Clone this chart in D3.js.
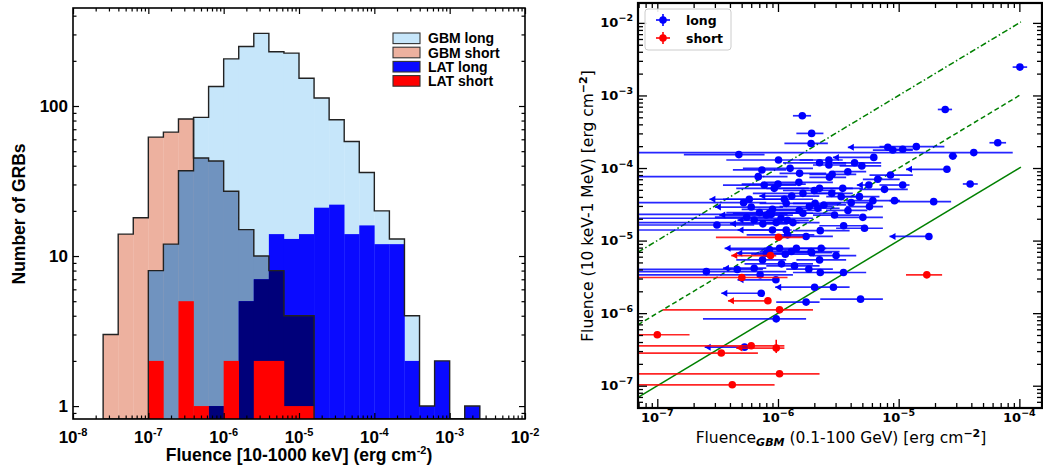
<!DOCTYPE html>
<html>
<head>
<meta charset="utf-8">
<script src="https://cdn.jsdelivr.net/npm/d3@7"></script>
<style>
  body { margin: 0; background: #fff; }
  svg { display: block; }
</style>
</head>
<body>
<svg id="chart" width="1043" height="468"></svg>
<script>
// ---------------- data: left panel (histogram, counts per 0.2-dex bin) ----------------
const binEdgesExp = [-7.6, -7.4, -7.2, -7.0, -6.8, -6.6, -6.4, -6.2, -6.0, -5.8, -5.6, -5.4, -5.2,
                     -5.0, -4.8, -4.6, -4.4, -4.2, -4.0, -3.8, -3.6, -3.4, -3.2, -3.0, -2.8, -2.6];
const gbmLong  = [0, 0, 0, 8, 12, 37, 84, 135, 206, 249, 305, 230, 225, 153, 113, 81, 58, 36, 20, 13, 4, 1, 2, 0, 1];
const gbmShort = [3, 14, 18, 62, 67, 82, 45, 43, 27, 15, 10, 8, 4, 4, 0, 0, 0, 0, 0, 0, 0, 0, 0, 0, 0];
const latLong  = [0, 0, 0, 0, 0, 0, 0, 1, 0, 5, 7, 14, 13, 14, 21, 22, 14, 16, 12, 12, 2, 1, 2, 0, 1];
const latShort = [0, 0, 0, 2, 0, 5, 1, 0, 2, 0, 2, 2, 1, 1, 0, 0, 0, 0, 0, 0, 0, 0, 0, 0, 0];
const histLegend = ["GBM long", "GBM short", "LAT long", "LAT short"];
const histXTicks = [1e-8, 1e-7, 1e-6, 1e-5, 1e-4, 1e-3, 1e-2];
const histYTicks = [1, 10, 100];

// ---------------- data: right panel (x, y, xLow, xHigh, upperLimit[, yLow, yHigh]) ----------------
const longPts = [
  [1.01e-4, 2.46e-3, 8.8e-5, 1.16e-4, 0],
  [1.59e-6, 5.25e-4, 1.33e-6, 1.88e-6, 0],
  [2.43e-5, 6.41e-4, 2.11e-5, 2.77e-5, 0],
  [1.90e-6, 3.0e-4, 1.42e-6, 2.38e-6, 0],
  [6.62e-5, 2.23e-4, 5.65e-5, 7.76e-5, 0],
  [1.88e-6, 2.18e-4, 1.13e-6, 2.59e-6, 0],
  [1.40e-5, 1.97e-4, 6.93e-6, 2.39e-5, 0],
  [8.13e-6, 1.93e-4, 3.79e-6, 8.13e-6, 1],
  [8.94e-6, 1.77e-4, 6.11e-6, 1.31e-5, 0],
  [1.08e-5, 1.81e-4, 8.39e-6, 1.31e-5, 0],
  [4.19e-5, 1.63e-4, 1e-8, 8.81e-5, 0],
  [4.74e-7, 1.53e-4, 1.66e-7, 7.74e-7, 0],
  [6.22e-6, 1.40e-4, 2.85e-6, 6.22e-6, 1],
  [2.81e-5, 1.46e-4, 2.60e-5, 3.05e-5, 0],
  [1.01e-6, 1.29e-4, 3.73e-7, 1.95e-6, 0],
  [2.21e-6, 1.18e-4, 1.10e-6, 3.67e-6, 0],
  [2.64e-6, 1.29e-4, 1.51e-6, 3.44e-6, 0],
  [2.64e-6, 1.10e-4, 1.95e-6, 3.67e-6, 0],
  [4.31e-6, 1.18e-4, 2.85e-6, 7.16e-6, 0],
  [4.95e-6, 1.07e-4, 3.24e-6, 7.16e-6, 0],
  [1.26e-6, 9.9e-5, 5.12e-7, 1.95e-6, 0],
  [2.51e-5, 9.6e-5, 1.15e-5, 2.51e-5, 1],
  [7.36e-7, 9.4e-5, 4.23e-7, 1.17e-6, 0],
  [1.51e-6, 8.45e-5, 1.03e-6, 2.51e-6, 0],
  [2.81e-6, 8.2e-5, 1.82e-6, 4.45e-6, 0],
  [3.79e-6, 8.9e-5, 2.85e-6, 5.38e-6, 0],
  [8.55e-6, 8.0e-5, 5.73e-6, 1.31e-5, 0],
  [6.86e-7, 7.6e-5, 1e-8, 1.20e-6, 0],
  [2.67e-6, 7.45e-5, 1.82e-6, 3.67e-6, 0],
  [1.49e-6, 6.35e-5, 8.0e-7, 2.85e-6, 0],
  [6.71e-6, 6.99e-5, 5.05e-6, 1.02e-5, 0],
  [7.69e-7, 5.83e-5, 3.50e-7, 1.42e-6, 0],
  [9.31e-7, 5.25e-5, 4.51e-7, 1.80e-6, 0],
  [2.21e-6, 5.25e-5, 8.0e-7, 4.17e-6, 0],
  [5.66e-6, 5.83e-5, 4.5e-6, 5.66e-6, 1],
  [1.08e-5, 5.83e-5, 6.93e-6, 1.23e-5, 0],
  [7.63e-6, 5.08e-5, 4.73e-6, 1.19e-5, 0],
  [3.44e-6, 5.25e-5, 2.36e-6, 5.05e-6, 0],
  [3.91e-5, 6.03e-5, 3.40e-5, 4.52e-5, 0],
  [1.61e-6, 4.48e-5, 6.19e-7, 3.44e-6, 0],
  [2.79e-6, 4.48e-5, 1.95e-6, 4.17e-6, 0],
  [3.34e-6, 4.03e-5, 2.51e-6, 4.73e-6, 0],
  [4.73e-6, 4.03e-5, 3.24e-6, 6.93e-6, 0],
  [1.13e-6, 3.71e-5, 3.50e-7, 1.95e-6, 0],
  [5.78e-7, 3.71e-5, 2.70e-7, 1.20e-6, 1],
  [5.19e-7, 3.33e-5, 1e-8, 8.0e-7, 0],
  [1.17e-6, 3.26e-5, 7.03e-7, 1.95e-6, 0],
  [2.03e-6, 3.26e-5, 1.33e-6, 3.24e-6, 0],
  [6.11e-6, 3.55e-5, 3.67e-6, 1.02e-5, 0],
  [9.23e-6, 3.55e-5, 8.39e-6, 1.02e-5, 0],
  [1.95e-5, 3.44e-5, 9.23e-6, 2.72e-5, 0],
  [4.04e-6, 3.33e-5, 2.51e-6, 6.11e-6, 0],
  [5.73e-6, 2.94e-5, 3.67e-6, 7.40e-6, 0],
  [1.82e-6, 2.94e-5, 1.03e-6, 2.85e-6, 0],
  [2.40e-6, 3.10e-5, 1.71e-6, 3.67e-6, 0],
  [2.14e-6, 2.79e-5, 1.42e-6, 3.24e-6, 0],
  [7.03e-7, 2.43e-5, 3.73e-7, 1.42e-6, 0],
  [8.46e-7, 2.38e-5, 4.23e-7, 1.95e-6, 0],
  [1.06e-6, 2.03e-5, 1e-8, 1.95e-6, 0],
  [6.35e-7, 1.92e-5, 4.62e-7, 1.03e-6, 1],
  [3.12e-7, 1.64e-5, 1e-8, 6.35e-7, 0],
  [1.61e-6, 2.38e-5, 1.03e-6, 2.85e-6, 0],
  [2.94e-6, 2.25e-5, 1.95e-6, 4.73e-6, 0],
  [5.05e-6, 2.09e-5, 3.03e-6, 7.40e-6, 0],
  [5.21e-6, 1.48e-5, 3.03e-6, 7.40e-6, 0],
  [2.24e-6, 1.37e-5, 1.33e-6, 3.92e-6, 0],
  [1.71e-6, 1.14e-5, 9.67e-7, 2.85e-6, 0],
  [1.78e-5, 1.14e-5, 8.39e-6, 1.78e-5, 1],
  [1.42e-6, 7.83e-6, 8.0e-7, 2.51e-6, 0],
  [2.28e-6, 7.83e-6, 1.51e-6, 3.92e-6, 0],
  [1.29e-6, 7.06e-6, 7.03e-7, 2.21e-6, 0],
  [1.88e-6, 7.06e-6, 1.17e-6, 3.24e-6, 0],
  [3.03e-6, 6.22e-6, 1.95e-6, 4.45e-6, 0],
  [2.21e-6, 5.42e-6, 1.42e-6, 3.67e-6, 0],
  [1.07e-6, 4.78e-6, 5.28e-7, 1.95e-6, 0],
  [1.37e-6, 4.48e-6, 8.0e-7, 2.21e-6, 0],
  [1.80e-6, 4.04e-6, 1.17e-6, 2.85e-6, 0],
  [2.24e-6, 3.63e-6, 1.33e-6, 3.67e-6, 0],
  [3.49e-6, 3.63e-6, 2.21e-6, 5.38e-6, 0],
  [7.45e-7, 5.42e-6, 4.51e-7, 1.17e-6, 0],
  [6.35e-7, 4.16e-6, 3.50e-7, 8.0e-7, 1],
  [2.55e-7, 3.74e-6, 1e-8, 1.17e-6, 0],
  [7.12e-7, 3.37e-6, 1e-8, 1.33e-6, 0],
  [9.61e-7, 2.88e-6, 4.62e-7, 9.61e-7, 1],
  [2.01e-6, 2.28e-6, 9.48e-7, 2.01e-6, 1],
  [2.88e-6, 2.28e-6, 1.95e-6, 3.92e-6, 0],
  [7.26e-7, 1.88e-6, 3.39e-7, 7.26e-7, 1],
  [1.71e-6, 1.42e-6, 9.67e-7, 2.21e-6, 0],
  [4.83e-6, 1.56e-6, 2.24e-6, 7.40e-6, 0],
  [9.67e-7, 8.35e-7, 2.39e-7, 1.71e-6, 0],
  [5.28e-7, 3.40e-7, 2.47e-7, 5.28e-7, 1],
  [8.0e-7, 2.25e-5, 3.26e-7, 1.33e-6, 1],
  [9.67e-7, 1.77e-5, 1e-8, 1.51e-6, 0],
  [1.17e-6, 1.40e-5, 4.62e-7, 1.17e-6, 1],
  [1.33e-6, 1.77e-5, 8.0e-7, 2.21e-6, 0],
  [1.03e-6, 7.83e-6, 3.61e-7, 1.03e-6, 1],
  [8.0e-7, 6.7e-6, 4.51e-7, 1.33e-6, 1],
  [8.8e-7, 2.3e-5, 1e-8, 1.2e-6, 0],
  [9.0e-7, 1.40e-5, 1e-8, 1.3e-6, 0],
  [5.5e-7, 2.1e-5, 3.0e-7, 9.0e-7, 0],
  [1.2e-6, 1.9e-5, 6.5e-7, 1.8e-6, 0],
  [7.5e-7, 1.7e-5, 4.0e-7, 1.2e-6, 1],
  [1.5e-6, 2.6e-5, 9.0e-7, 2.3e-6, 0],
  [9.0e-7, 2.7e-5, 5.0e-7, 1.6e-6, 0],
  [6.0e-7, 2.9e-5, 3.0e-7, 1.1e-6, 1],
  [1.2e-6, 1.2e-5, 5.5e-7, 2.0e-6, 0],
  [8.5e-7, 7.5e-6, 4.0e-7, 1.5e-6, 0],
  [1.15e-6, 6.5e-6, 6.0e-7, 2.0e-6, 0],
  [1.9e-6, 6.8e-6, 1.2e-6, 2.8e-6, 0],
  [3.5e-6, 1.6e-5, 2.2e-6, 5.0e-6, 0],
  [3.8e-6, 2.6e-5, 2.5e-6, 5.5e-6, 0],
  [1.3e-6, 4.1e-5, 7.0e-7, 2.2e-6, 1],
  [2.0e-6, 4.9e-5, 1.1e-6, 3.0e-6, 0],
  [1.0e-6, 6.0e-5, 5.0e-7, 1.7e-6, 0],
  [4.6e-7, 4.0e-6, 1e-8, 7.5e-7, 0]
];
const shortPts = [
  [1.01e-6, 1.11e-5, 3.06e-7, 1.61e-6, 0],
  [8.67e-7, 6.22e-6, 4.10e-7, 9.67e-7, 1],
  [5.02e-7, 3.10e-6, 1e-8, 1.20e-6, 0],
  [1.71e-5, 3.37e-6, 1.15e-5, 2.29e-5, 0],
  [8.25e-7, 1.48e-6, 3.85e-7, 8.25e-7, 1],
  [1.03e-6, 1.11e-6, 1.11e-7, 1.95e-6, 0],
  [1.0e-7, 5.04e-7, 1e-8, 1.85e-7, 0],
  [6.0e-7, 3.55e-7, 1e-8, 1.13e-6, 0],
  [9.67e-7, 3.30e-7, 4.51e-7, 1.13e-6, 1, 2.82e-7, 4.3e-7],
  [3.39e-7, 2.82e-7, 1e-8, 6.82e-7, 0],
  [1.03e-6, 1.46e-7, 1e-8, 2.21e-6, 0],
  [4.18e-7, 1.03e-7, 1e-8, 9.37e-7, 0]
];
const seriesNames = ["long", "short"];
const ratioLines = [1, 10, 100];           // LAT = ratio * GBM
const scatterXTicks = [1e-7, 1e-6, 1e-5, 1e-4];
const scatterYTicks = [1e-7, 1e-6, 1e-5, 1e-4, 1e-3, 1e-2];

// ---------------- setup ----------------
const svg = d3.select("#chart");
const isMajor = v => Math.abs(Math.log10(v) - Math.round(Math.log10(v))) < 1e-6;

// inward ticks on all four sides of a frame
function frameTicks(g, xs, ys, majLen, minLen, sw) {
  const [x0, x1] = xs.range(), [y0, y1] = ys.range();
  const xt = xs.ticks(), yt = ys.ticks();
  const sides = [
    [d3.axisBottom, xs, xt, `translate(0,${y0})`],
    [d3.axisTop, xs, xt, `translate(0,${y1})`],
    [d3.axisLeft, ys, yt, `translate(${x0},0)`],
    [d3.axisRight, ys, yt, `translate(${x1},0)`]
  ];
  sides.forEach(([ax, sc, tv, tr]) => {
    [[tv.filter(isMajor), majLen], [tv.filter(v => !isMajor(v)), minLen]].forEach(([vals, len]) => {
      g.append("g").attr("transform", tr)
        .call(ax(sc).tickValues(vals).tickSize(-len).tickFormat(""))
        .call(a => a.select(".domain").remove())
        .call(a => a.selectAll("line").attr("stroke", "#000").attr("stroke-width", sw));
    });
  });
}

// ================= LEFT PANEL =================
const hx = d3.scaleLog().domain([1e-8, 1e-2]).range([73, 525]);
const hy = d3.scaleLog().domain([0.82, 450]).range([419, 8]);
const hBottom = hy.range()[0];
const left = svg.append("g").attr("font-family", "'Liberation Sans', Arial, sans-serif").attr("font-weight", "bold");

left.append("clipPath").attr("id", "clipL").append("rect")
  .attr("x", hx.range()[0]).attr("y", hy.range()[1])
  .attr("width", hx.range()[1] - hx.range()[0]).attr("height", hBottom - hy.range()[1]);

const edges = binEdgesExp.map(e => Math.pow(10, e));
const bins = gbmLong.map((c, i) => ({ i, lo: edges[i], hi: edges[i + 1] }));

const layers = [
  { counts: gbmLong, fill: "#c6e6fa" },
  { counts: gbmShort, fill: "#edb19f" },
  { counts: gbmLong.map((c, i) => Math.min(c, gbmShort[i])), fill: "#7093bf" },
  { counts: latLong, fill: "#0a0aff" },
  { counts: latLong.map((c, i) => Math.min(c, gbmShort[i])), fill: "#00007a" },
  { counts: latShort, fill: "#ff0000" }
];

const histG = left.append("g").attr("clip-path", "url(#clipL)");
layers.forEach(layer => {
  histG.append("g").selectAll("rect")
    .data(bins.filter(b => layer.counts[b.i] > 0))
    .join("rect")
    .attr("x", b => hx(b.lo))
    .attr("width", b => hx(b.hi) - hx(b.lo) + 0.3)
    .attr("y", b => hy(layer.counts[b.i]))
    .attr("height", b => hBottom - hy(layer.counts[b.i]))
    .attr("fill", layer.fill);
});

// black step outlines for the two GBM histograms
function stepPoints(counts) {
  const pts = [];
  counts.forEach((c, i) => {
    const yv = c > 0 ? hy(c) : hBottom;
    pts.push([hx(edges[i]), yv], [hx(edges[i + 1]), yv]);
  });
  return [[pts[0][0], hBottom], ...pts, [pts[pts.length - 1][0], hBottom]];
}
[gbmLong, gbmShort].forEach(counts => {
  histG.append("path")
    .attr("d", d3.line()(stepPoints(counts)))
    .attr("fill", "none").attr("stroke", "#222").attr("stroke-width", 1.4)
    .attr("stroke-linejoin", "miter");
});

// frame + ticks
left.append("rect")
  .attr("x", hx.range()[0]).attr("y", hy.range()[1])
  .attr("width", hx.range()[1] - hx.range()[0]).attr("height", hBottom - hy.range()[1])
  .attr("fill", "none").attr("stroke", "#000").attr("stroke-width", 1.6);
frameTicks(left.append("g"), hx, hy, 6, 3.5, 1.2);

// tick labels
left.append("g").selectAll("text").data(histYTicks).join("text")
  .attr("x", 68).attr("y", d => hy(d)).attr("dy", "0.36em")
  .attr("text-anchor", "end").attr("font-size", 17).text(d => d);

left.append("g").selectAll("text").data(histXTicks).join("text")
  .attr("x", d => hx(d)).attr("y", 443).attr("text-anchor", "middle").attr("font-size", 17)
  .html(d => `10<tspan dy="-7" font-size="11">${Math.round(Math.log10(d))}</tspan>`);

// axis titles
left.append("text")
  .attr("x", 299).attr("y", 461).attr("text-anchor", "middle").attr("font-size", 17.5)
  .html(`Fluence [10-1000 keV] (erg cm<tspan dy="-7" font-size="11">-2</tspan><tspan dy="7">)</tspan>`);
left.append("text")
  .attr("transform", "translate(25,214) rotate(-90)")
  .attr("text-anchor", "middle").attr("font-size", 17.5)
  .text("Number of GRBs");

// legend
const legFills = ["#c6e6fa", "#edb19f", "#0a0aff", "#ff0000"];
const legG = left.append("g").selectAll("g").data(histLegend).join("g")
  .attr("transform", (d, i) => `translate(393,${38.3 + i * 14.2})`);
legG.append("rect").attr("x", 0).attr("y", -5.3).attr("width", 27).attr("height", 10.6)
  .attr("fill", (d, i) => legFills[i]).attr("stroke", "#333").attr("stroke-width", 1.1);
legG.append("text").attr("x", 35).attr("y", 0).attr("dy", "0.36em")
  .attr("font-size", 14).text(d => d);

// ================= RIGHT PANEL =================
const sx = d3.scaleLog().domain([6.92e-8, 1.54e-4]).range([638, 1042]);
const sy = d3.scaleLog().domain([4.93e-8, 1.88e-2]).range([408, 3]);
const right = svg.append("g").attr("font-family", "'DejaVu Sans', sans-serif");

right.append("clipPath").attr("id", "clipR").append("rect")
  .attr("x", 638).attr("y", 3).attr("width", 1042 - 638).attr("height", 408 - 3);
const plotR = right.append("g").attr("clip-path", "url(#clipR)");

// reference lines LAT = k * GBM
const dashes = [null, "5,3", "6,2.5,1.5,2.5"];
ratioLines.forEach((k, i) => {
  const xs = [sx.domain()[0], 1.03e-4];
  plotR.append("path")
    .attr("d", d3.line()(xs.map(x => [sx(x), sy(k * x)])))
    .attr("fill", "none").attr("stroke", "#008000").attr("stroke-width", 1.5)
    .attr("stroke-dasharray", dashes[i]);
});

// error-bar scatter
const series = [{ pts: longPts, color: "#0000ff" }, { pts: shortPts, color: "#ff0000" }];
series.forEach(s => {
  const g = plotR.append("g");
  g.append("g").selectAll("line").data(s.pts).join("line")
    .attr("x1", d => sx(d[2])).attr("x2", d => sx(d[3]))
    .attr("y1", d => sy(d[1])).attr("y2", d => sy(d[1]))
    .attr("stroke", s.color).attr("stroke-width", 1.7).attr("stroke-opacity", 0.85);
  g.append("g").selectAll("line").data(s.pts.filter(d => d.length > 5)).join("line")
    .attr("x1", d => sx(d[0])).attr("x2", d => sx(d[0]))
    .attr("y1", d => sy(d[5])).attr("y2", d => sy(d[6]))
    .attr("stroke", s.color).attr("stroke-width", 1.6);
  g.append("g").selectAll("path").data(s.pts.filter(d => d[4] === 1)).join("path")
    .attr("d", d => {
      const x0 = sx(d[2]), y0 = sy(d[1]);
      return `M${x0},${y0}L${x0 + 6},${y0 - 3.5}L${x0 + 6},${y0 + 3.5}Z`;
    })
    .attr("fill", s.color);
  g.append("g").selectAll("circle").data(s.pts).join("circle")
    .attr("cx", d => sx(d[0])).attr("cy", d => sy(d[1])).attr("r", 3.8)
    .attr("fill", s.color);
});

// frame + ticks
frameTicks(right.append("g"), sx, sy, 9, 5, 1.3);
right.append("rect").attr("x", 638).attr("y", 3).attr("width", 1042 - 638).attr("height", 405)
  .attr("fill", "none").attr("stroke", "#000").attr("stroke-width", 2.2);

// tick labels
right.append("g").selectAll("text").data(scatterXTicks).join("text")
  .attr("x", d => sx(d)).attr("y", 422).attr("text-anchor", "middle")
  .attr("font-size", 13).attr("font-weight", "bold")
  .html(d => `10<tspan dy="-6" font-size="9.5">\u2212${-Math.round(Math.log10(d))}</tspan>`);
right.append("g").selectAll("text").data(scatterYTicks).join("text")
  .attr("x", 633).attr("y", d => sy(d) + 4.5).attr("text-anchor", "end")
  .attr("font-size", 13).attr("font-weight", "bold")
  .html(d => `10<tspan dy="-6" font-size="9.5">\u2212${-Math.round(Math.log10(d))}</tspan>`);

// axis titles
right.append("text")
  .attr("x", 841).attr("y", 443).attr("text-anchor", "middle").attr("font-size", 15.5)
  .html(`Fluence<tspan dy="3" font-size="11" font-weight="bold" font-style="italic">GBM</tspan>` +
        `<tspan dy="-3"> (0.1-100 GeV) [erg cm</tspan><tspan dy="-6" font-size="11" font-weight="bold">\u22122</tspan><tspan dy="6">]</tspan>`);
right.append("text")
  .attr("transform", "translate(593,206) rotate(-90)")
  .attr("text-anchor", "middle").attr("font-size", 15.5)
  .html(`Fluence (10 keV-1 MeV) [erg cm<tspan dy="-6" font-size="11" font-weight="bold">\u22122</tspan><tspan dy="6">]</tspan>`);

// legend
const leg = right.append("g");
leg.append("rect").attr("x", 645).attr("y", 9).attr("width", 86).attr("height", 41).attr("rx", 3)
  .attr("fill", "#fff").attr("fill-opacity", 0.9).attr("stroke", "#ccc");
const legItems = leg.selectAll("g.item").data(series).join("g")
  .attr("transform", (d, i) => `translate(663,${20 + i * 18})`);
legItems.append("line").attr("x1", -7).attr("x2", 7).attr("stroke", d => d.color).attr("stroke-width", 1.6);
legItems.append("line").attr("y1", -6).attr("y2", 6).attr("stroke", d => d.color).attr("stroke-width", 1.6);
legItems.append("circle").attr("r", 3.8).attr("fill", d => d.color);
legItems.append("text").attr("x", 23).attr("dy", "0.36em").attr("font-size", 12.5).attr("font-weight", "bold")
  .text((d, i) => seriesNames[i]);
</script>
</body>
</html>
